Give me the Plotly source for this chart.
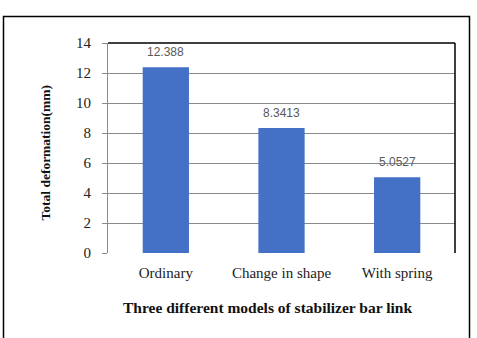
import plotly.graph_objects as go

categories = ["Ordinary", "Change in shape", "With spring"]
values = [12.388, 8.3413, 5.0527]
value_labels = ["12.388", "8.3413", "5.0527"]
y_ticks = [0, 2, 4, 6, 8, 10, 12, 14]

W, H = 477, 338
L, R, T, B = 108, 22, 43, 85
pw, ph = W - L - R, H - T - B

def px_x(x):
    return (x - L) / pw

def px_y(y):
    return (H - B - y) / ph

fig = go.Figure(go.Bar(
    x=categories, y=values,
    marker=dict(color="#4470C6", line=dict(width=0)),
    width=0.4,
))

serif = "Liberation Serif"
label_anns = [
    dict(x=c, y=v, text=t, xref="x", yref="y", showarrow=False, yanchor="bottom", yshift=6,
         font=dict(family="Liberation Sans Narrow, Liberation Sans", size=12, color="#595959"))
    for c, v, t in zip(categories, values, value_labels)
]

fig.update_layout(
    width=W, height=H, margin=dict(l=L, r=R, t=T, b=B, pad=0),
    paper_bgcolor="white", plot_bgcolor="white", showlegend=False,
    xaxis=dict(showgrid=False, showline=False, zeroline=False, ticks="",
               tickfont=dict(family=serif, size=15, color="#222"), ticklabelstandoff=9),
    yaxis=dict(range=[0, 14], tickvals=y_ticks, showgrid=True, gridcolor="#8a8a8a", gridwidth=1,
               zeroline=False, showline=True, linecolor="#8a8a8a", linewidth=1,
               ticks="outside", ticklen=5, tickcolor="#8a8a8a", ticklabelstandoff=8,
               tickfont=dict(family=serif, size=15, color="#222")),
    shapes=[
        dict(type="line", xref="paper", yref="paper", x0=0, x1=1, y0=1, y1=1,
             line=dict(color="black", width=1.5)),
        dict(type="line", xref="paper", yref="paper", x0=1, x1=1, y0=0, y1=1,
             line=dict(color="black", width=1.5)),
        dict(type="path", xref="paper", yref="paper",
             path=f"M {px_x(3.5)},{px_y(345)} L {px_x(3.5)},{px_y(16.5)} L {px_x(469.5)},{px_y(16.5)} L {px_x(469.5)},{px_y(345)}",
             line=dict(color="black", width=1.5)),
    ],
    annotations=label_anns + [
        dict(text="<b>Three different models of stabilizer bar link</b>", xref="paper", yref="paper",
             x=px_x(267), y=px_y(318), showarrow=False,
             font=dict(family=serif, size=15.5, color="#111")),
        dict(text="<b>Total deformation(mm)</b>", xref="paper", yref="paper",
             x=px_x(35), y=px_y(153), showarrow=False, textangle=-90,
             font=dict(family=serif, size=13.5, color="#111")),
    ],
)

fig.write_html("out.html")
